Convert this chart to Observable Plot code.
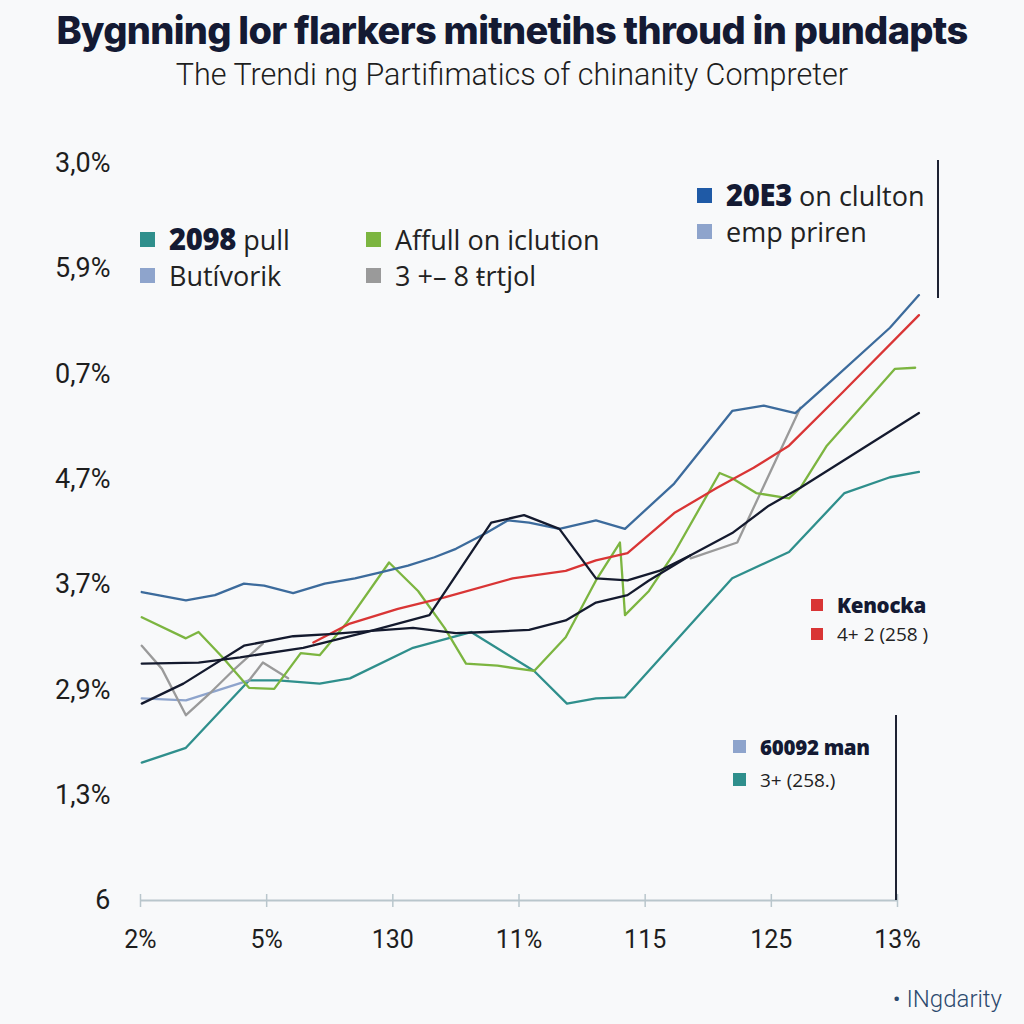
<!DOCTYPE html>
<html>
<head>
<meta charset="utf-8">
<script src="https://cdn.jsdelivr.net/npm/d3@7"></script>
<script src="https://cdn.jsdelivr.net/npm/@observablehq/plot@0.6"></script>
<style>
  html, body { margin: 0; padding: 0; background: #f8f9fa; }
  #wrap { position: relative; width: 1024px; height: 1024px; overflow: hidden; background: #f8f9fa; font-family: "Open Sans", sans-serif; }
  #title { position: absolute; left: 0; top: 7px; width: 1024px; text-align: center; font-family: "Inter", sans-serif; font-weight: 800; font-size: 38px; color: #141a33; letter-spacing: -0.7px; }
  #subtitle { position: absolute; left: 0; top: 57px; width: 1024px; text-align: center; font-family: "Roboto", sans-serif; font-weight: 300; font-size: 30.5px; color: #1d1d1d; }
  #chart { position: absolute; left: 0; top: 110px; }
  .leg { position: absolute; color: #222; white-space: nowrap; box-sizing: border-box; }
  .leg .row { display: flex; align-items: center; white-space: pre; }
  .leg .sw { display: inline-block; margin-right: 14px; }
  .leg b { font-weight: 800; color: #141a33; font-size: 1.08em; letter-spacing: -0.3px; }
  #footer { position: absolute; right: 22px; top: 985px; font-family: "Roboto", sans-serif; font-weight: 300; font-size: 24px; color: #2d4a6e; }
</style>
</head>
<body>
<div id="wrap">
  <div id="title">Bygnning lor flarkers mitnetihs throud in pundapts</div>
  <div id="subtitle">The Trendi ng Partifimatics of chinanity Compreter</div>
  <div id="chart"></div>
  <div id="footer">• INgdarity</div>
</div>
<script>
// ---- tick labels ----
const xTickLabels = ["2%", "5%", "130", "11%", "115", "125", "13%"];
const yTickLabels = ["6", "1,3%", "2,9%", "3,7%", "4,7%", "0,7%", "5,9%", "3,0%"];

// ---- series values (x in tick units, y in tick units) ----
const tealX = [0.01, 0.36, 0.86, 1.09, 1.42, 1.66, 2.16, 2.62, 3.12, 3.38, 3.61, 3.84, 4.69, 5.14, 5.58, 5.94, 6.17];
const tealY = [1.31, 1.45, 2.09, 2.09, 2.06, 2.11, 2.40, 2.55, 2.18, 1.87, 1.92, 1.93, 3.06, 3.31, 3.87, 4.02, 4.07];

const lightX = [0.01, 0.36, 0.86];
const lightY = [1.92, 1.90, 2.09];

const grayAX = [0.01, 0.17, 0.36, 0.56, 0.73, 0.97];
const grayAY = [2.42, 2.20, 1.76, 1.98, 2.18, 2.44];
const grayBX = [0.86, 0.97, 1.17];
const grayBY = [2.09, 2.26, 2.11];
const grayCX = [4.36, 4.73, 5.23];
const grayCY = [3.25, 3.40, 4.68];

const greenX = [0.01, 0.36, 0.46, 0.65, 0.86, 1.06, 1.27, 1.42, 1.63, 1.97, 2.20, 2.41, 2.58, 2.83, 3.12, 3.37, 3.61, 3.80, 3.84, 4.03, 4.23, 4.59, 4.69, 4.88, 5.14, 5.23, 5.44, 5.98, 6.14];
const greenY = [2.69, 2.49, 2.55, 2.31, 2.02, 2.01, 2.35, 2.33, 2.63, 3.21, 2.94, 2.59, 2.25, 2.23, 2.18, 2.50, 3.04, 3.40, 2.71, 2.94, 3.30, 4.06, 4.01, 3.87, 3.82, 3.92, 4.32, 5.05, 5.06];

const redX = [1.37, 1.66, 2.04, 2.41, 2.95, 3.37, 3.61, 3.86, 4.23, 4.57, 4.86, 5.14, 5.56, 6.17];
const redY = [2.45, 2.63, 2.77, 2.88, 3.06, 3.13, 3.23, 3.30, 3.68, 3.92, 4.11, 4.32, 4.82, 5.56];

const blueX = [0.01, 0.36, 0.59, 0.82, 0.98, 1.21, 1.46, 1.70, 1.91, 2.12, 2.33, 2.50, 2.74, 2.91, 3.08, 3.32, 3.61, 3.84, 4.23, 4.69, 4.94, 5.19, 5.48, 5.94, 6.17];
const blueY = [2.93, 2.85, 2.90, 3.01, 2.99, 2.92, 3.01, 3.06, 3.12, 3.18, 3.26, 3.34, 3.49, 3.61, 3.59, 3.53, 3.61, 3.53, 3.96, 4.65, 4.70, 4.63, 4.94, 5.44, 5.75];

const blackAX = [0.01, 0.34, 0.82, 1.21, 1.50, 1.83, 2.16, 2.50, 2.74, 3.08, 3.37, 3.61, 3.86, 4.03, 4.36, 4.69, 4.98, 5.23, 6.17];
const blackAY = [1.87, 2.06, 2.42, 2.51, 2.53, 2.56, 2.59, 2.54, 2.55, 2.57, 2.66, 2.83, 2.90, 3.04, 3.28, 3.49, 3.75, 3.92, 4.63];

const blackBX = [0.01, 0.46, 0.79, 1.29, 1.79, 2.29, 2.78, 3.04, 3.32, 3.61, 3.86, 4.11, 4.36];
const blackBY = [2.25, 2.26, 2.31, 2.40, 2.55, 2.71, 3.59, 3.66, 3.53, 3.06, 3.04, 3.13, 3.28];

// ---- colours ----
const colors = {
  teal: "#2f8f8c", light: "#8ea4cc", gray: "#9a9a9a", green: "#7cb540",
  red: "#d93535", blue: "#3c6b9c", black: "#141a2e", darkblue: "#1f5aa6"
};

const seriesDefs = [
  ["teal", "teal", tealX, tealY],
  ["light", "light", lightX, lightY],
  ["grayA", "gray", grayAX, grayAY],
  ["grayB", "gray", grayBX, grayBY],
  ["grayC", "gray", grayCX, grayCY],
  ["green", "green", greenX, greenY],
  ["red", "red", redX, redY],
  ["blue", "blue", blueX, blueY],
  ["blackB", "black", blackBX, blackBY],
  ["blackA", "black", blackAX, blackAY]
];
const rows = seriesDefs.flatMap(([id, col, xs, ys]) => xs.map((x, i) => ({id, color: colors[col], x, y: ys[i]})));

const chart = Plot.plot({
  width: 1024,
  height: 880,
  marginLeft: 140,
  marginRight: 127,
  marginTop: 53,
  marginBottom: 90,
  style: {background: "transparent", fontFamily: "Roboto, sans-serif", overflow: "visible"},
  x: {type: "linear", domain: [0, 6], label: null},
  y: {type: "linear", domain: [0, 7], label: null},
  color: {type: "identity"},
  marks: [
    Plot.ruleY([0], {stroke: "#b9c6cc", strokeWidth: 2}),
    Plot.ruleX(d3.range(0, 7), {x: d => d, y1: 0, y2: 0, insetTop: -6, insetBottom: -7, stroke: "#b9c6cc", strokeWidth: 1.5}),
    Plot.axisX({ticks: d3.range(0, 7), tickFormat: i => xTickLabels[i], tickSize: 0, tickPadding: 30, fontSize: 25, fill: "#1e1e1e"}),
    Plot.axisY({ticks: d3.range(0, 8), tickFormat: i => yTickLabels[i], tickSize: 0, tickPadding: 30, fontSize: 27, fill: "#1e1e1e"}),
    Plot.line(rows, {x: "x", y: "y", z: "id", stroke: "color", strokeWidth: 2.3, curve: "linear"})
  ]
});
document.getElementById("chart").appendChild(chart);

// ---- legends ----
function legend(left, top, items, opts) {
  const div = document.createElement("div");
  div.className = "leg";
  div.style.left = left + "px";
  div.style.top = top + "px";
  if (opts.padTop) div.style.paddingTop = opts.padTop + "px";
  if (opts.border) {
    div.style.borderRight = "2px solid #1e2233";
    div.style.height = opts.border + "px";
    div.style.width = opts.width + "px";
  }
  items.forEach(([col, bold, rest]) => {
    const r = document.createElement("div");
    r.className = "row";
    r.style.height = opts.rowH + "px";
    r.style.fontSize = opts.font + "px";
    r.innerHTML = `<span class="sw" style="width:${opts.sw}px;height:${opts.sw}px;background:${col}"></span>` +
      (bold ? `<b>${bold}</b>` : "") + (rest ? `<span>${rest}</span>` : "");
    div.appendChild(r);
  });
  document.getElementById("wrap").appendChild(div);
}
legend(140, 221, [[colors.teal, "2098", " pull"], [colors.light, "", "Butívorik"]], {rowH: 36, font: 27, sw: 15});
legend(366, 221, [[colors.green, "", "Affull on iclution"], [colors.gray, "", "3 +– 8 ŧrtjol"]], {rowH: 36, font: 27, sw: 15});
legend(697, 160, [[colors.darkblue, "20E3", " on clulton"], [colors.light, "", "emp priren"]], {rowH: 36, font: 27, sw: 15, border: 138, width: 242, padTop: 17});
legend(811, 590, [[colors.red, "Kenocka", ""], [colors.red, "", "4+ 2 (258 )"]], {rowH: 29, font: 19, sw: 12});
legend(733, 715, [[colors.light, "60092 man", ""], [colors.teal, "", "3+ (258.)"]], {rowH: 33, font: 19, sw: 13, border: 185, width: 164, padTop: 15});
</script>
</body>
</html>
